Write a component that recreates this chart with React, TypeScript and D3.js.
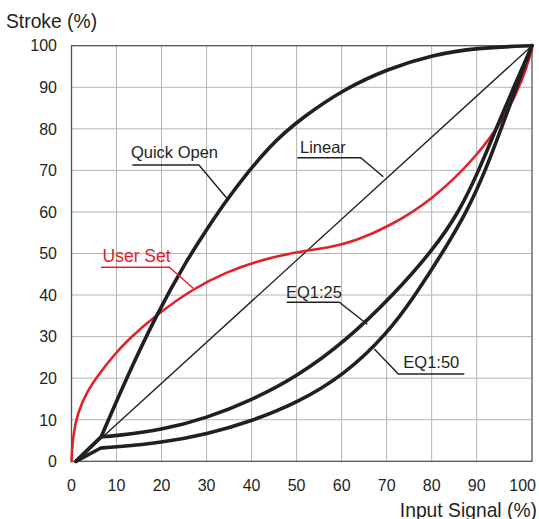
import React from "react"
import * as d3 from "d3"

type Pt = [number, number]

// values (input %, stroke %)
const quickOpen: Pt[] = [
  [1, 0], [6.6, 5.9], [11.9, 19.3], [18.9, 35.4], [25.6, 48.4], [30, 55.7],
  [34.5, 63.1], [44.1, 76.3], [51.5, 82.9], [60.4, 89.5], [70.4, 94.5],
  [80.2, 97.8], [90, 99.5], [100, 100],
]
const eq25: Pt[] = [
  [1, 0], [6.6, 5.9], [9.5, 6.1], [20, 7.5], [30, 10.4], [40, 14.7], [50, 20.3],
  [61, 29], [71.5, 40], [80.4, 51], [86.1, 60], [90.4, 70],
  [93.5, 80], [96.7, 90], [100, 100],
]
const eq50: Pt[] = [
  [1, 0], [6.5, 3.2], [9.5, 3.4], [20, 4.5], [30, 6.5], [40.4, 9.8], [50, 14],
  [60.4, 20.6], [70, 30.5], [76.3, 39.9], [82.6, 50.5], [87.8, 60], [91.6, 70],
  [94.4, 80], [97.2, 90], [100, 100],
]
const userSet: Pt[] = [
  [0, 0], [0.3, 6], [1.3, 11.5], [3.4, 16.8], [6.3, 21.3], [9.5, 25.6],
  [12.3, 29], [18.9, 35.3], [27.1, 41.6], [34.5, 45.6], [41.9, 48.4],
  [50, 50.4], [57.4, 51.4], [63, 53], [70.4, 56.4], [80.2, 62.9], [90, 73.3],
  [95, 82.5], [98.4, 92], [100, 99],
]
const linear: Pt[] = [[1, 0], [100, 100]]

const xTicks = [0, 10, 20, 30, 40, 50, 60, 70, 80, 90, 100]
const yTicks = [0, 10, 20, 30, 40, 50, 60, 70, 80, 90, 100]

const labels = [
  { text: "Quick Open", at: [13.2, 73] as Pt, leader: [[13.5, 71.3], [28.3, 71.3], [34.5, 63.3]] as Pt[], red: false },
  { text: "Linear", at: [50.75, 74.1] as Pt, leader: [[50.15, 73.05], [64.24, 73.05], [69.26, 68.48]] as Pt[], red: false },
  { text: "User Set", at: [6.9, 47.9] as Pt, leader: [[6.55, 46.68], [21.72, 46.68], [27.05, 41.63]] as Pt[], red: true },
  { text: "EQ1:25", at: [47.65, 39.2] as Pt, leader: [[47.8, 38.26], [59.48, 38.26], [65.7, 32.96]] as Pt[], red: false },
  { text: "EQ1:50", at: [73.7, 22.4] as Pt, leader: [[67.26, 27.02], [72.59, 21.0], [87.25, 21.0]] as Pt[], red: false },
]

const W = 539
const H = 519
const left = 71.5
const right = 532
const top = 45.7
const bottom = 461.3

const INK = "#231f20"
const RED = "#e3202a"
const FONT = "'Liberation Sans', Arial, Helvetica, sans-serif"

export default function App() {
  // the printed grid is uniform up to 90, the last column is a little wider
  const x = d3.scaleLinear().domain([0, 90, 100]).range([left, 476.7, right])
  const y = d3.scaleLinear().domain([0, 100]).range([bottom, top])

  const straight = d3.line<Pt>().x((d) => x(d[0])).y((d) => y(d[1]))
  const smooth = d3
    .line<Pt>()
    .x((d) => x(d[0]))
    .y((d) => y(d[1]))
    .curve(d3.curveBasis)

  // first segment is straight into the knee, the rest is a smooth curve
  const kneed = (pts: Pt[]) =>
    straight(pts.slice(0, 2))! + smooth(pts.slice(1))!.replace(/^M/, "L")

  return (
    <svg
      width={W}
      height={H}
      style={{ position: "absolute", left: 0, top: 0, background: "#fff" }}
      fontFamily={FONT}
    >
      {/* grid */}
      <g stroke="#b4b4b4" strokeWidth={1}>
        {xTicks.slice(1, -1).map((t) => (
          <line key={"gx" + t} x1={x(t)} x2={x(t)} y1={top} y2={bottom} />
        ))}
        {yTicks.slice(1, -1).map((t) => (
          <line key={"gy" + t} x1={left} x2={right} y1={y(t)} y2={y(t)} />
        ))}
      </g>
      <rect
        x={left}
        y={top}
        width={right - left}
        height={bottom - top}
        fill="none"
        stroke="#555"
        strokeWidth={1.3}
      />

      {/* tick labels */}
      <g fill={INK} fontSize={16}>
        {yTicks.map((t) => (
          <text key={"ty" + t} x={57} y={y(t)} dy="0.36em" textAnchor="end">
            {t}
          </text>
        ))}
        {xTicks.map((t, i) => (
          <text
            key={"tx" + t}
            x={i === xTicks.length - 1 ? x(t) + 4 : x(t)}
            y={491}
            textAnchor={i === xTicks.length - 1 ? "end" : "middle"}
          >
            {t}
          </text>
        ))}
      </g>

      <text x={6} y={27.5} fontSize={19.3} fill={INK}>
        Stroke (%)
      </text>
      <text x={537} y={516.5} fontSize={19.3} fill={INK} textAnchor="end">
        Input Signal (%)
      </text>

      {/* curves */}
      <path d={straight(linear)!} fill="none" stroke={INK} strokeWidth={1.3} />
      <path
        d={smooth(userSet)!}
        fill="none"
        stroke={RED}
        strokeWidth={2.6}
        strokeLinecap="round"
      />
      {[quickOpen, eq25, eq50].map((s, i) => (
        <path
          key={"c" + i}
          d={kneed(s)}
          fill="none"
          stroke={INK}
          strokeWidth={3.6}
          strokeLinejoin="round"
          strokeLinecap="round"
        />
      ))}

      {/* labels with leader lines */}
      {labels.map((l) => (
        <g key={l.text}>
          <path
            d={straight(l.leader)!}
            fill="none"
            stroke={l.red ? RED : INK}
            strokeWidth={1.4}
          />
          <text
            x={x(l.at[0])}
            y={y(l.at[1])}
            fontSize={l.red ? 17.5 : 16.5}
            fill={l.red ? RED : INK}
          >
            {l.text}
          </text>
        </g>
      ))}
    </svg>
  )
}
